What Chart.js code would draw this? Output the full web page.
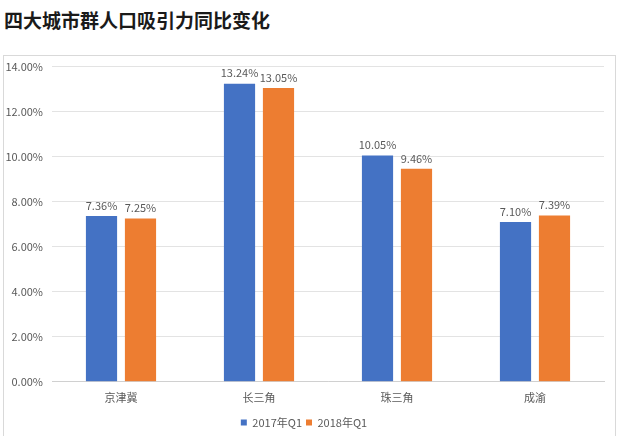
<!DOCTYPE html>
<html>
<head>
<meta charset="utf-8">
<script src="https://cdn.jsdelivr.net/npm/chart.js@4/dist/chart.umd.min.js"></script>
<style>
  html, body { margin: 0; padding: 0; background: #fff; width: 619px; height: 436px; overflow: hidden; }
  #title { position: absolute; left: 4px; top: 6px; font-family: 'Noto Sans CJK SC', sans-serif; font-weight: bold; font-size: 19px; color: #1a1a1a; letter-spacing: 0px; }
  #frame { position: absolute; left: 3px; top: 55px; width: 611px; height: 400px; border: 1px solid #d9d9d9; }
  #wrap { position: absolute; left: 4px; top: 51px; width: 611px; height: 393px; }
</style>
</head>
<body>
<div id="title">四大城市群人口吸引力同比变化</div>
<div id="frame"></div>
<div id="wrap"><canvas id="c" width="611" height="393"></canvas></div>
<script>
const categories = ['京津冀', '长三角', '珠三角', '成渝'];
const seriesNames = ['2017年Q1', '2018年Q1'];
const values2017 = [7.36, 13.24, 10.05, 7.10];
const values2018 = [7.25, 13.05, 9.46, 7.39];
const yTicks = [0, 2, 4, 6, 8, 10, 12, 14];

const FONT = "'Noto Sans CJK SC', 'Liberation Sans', sans-serif";

const valueLabels = {
  id: 'valueLabels',
  afterDatasetsDraw(chart) {
    const ctx = chart.ctx;
    ctx.save();
    ctx.font = '11px ' + FONT;
    ctx.fillStyle = '#595959';
    ctx.textAlign = 'center';
    ctx.textBaseline = 'bottom';
    chart.data.datasets.forEach((ds, i) => {
      const meta = chart.getDatasetMeta(i);
      meta.data.forEach((bar, j) => {
        ctx.fillText(ds.data[j].toFixed(2) + '%', bar.x, bar.y - 5);
      });
    });
    ctx.restore();
  }
};

new Chart(document.getElementById('c'), {
  type: 'bar',
  data: {
    labels: categories,
    datasets: [
      { label: seriesNames[0], data: values2017, backgroundColor: '#4472C4', categoryPercentage: 0.565, barPercentage: 0.8 },
      { label: seriesNames[1], data: values2018, backgroundColor: '#ED7D31', categoryPercentage: 0.565, barPercentage: 0.8 }
    ]
  },
  options: {
    responsive: false,
    animation: false,
    devicePixelRatio: 1,
    layout: { padding: { top: 5, right: 11, left: 0, bottom: 6 } },
    plugins: {
      title: { display: false },
      tooltip: { enabled: false },
      legend: {
        position: 'bottom',
        labels: {
          boxWidth: 6, boxHeight: 6, padding: 4,
          color: '#595959',
          font: { family: FONT, size: 11 }
        }
      }
    },
    scales: {
      x: {
        grid: { display: false, drawTicks: false },
        border: { display: true, color: '#d0d0d0' },
        ticks: { color: '#595959', font: { family: FONT, size: 11 }, padding: 9 }
      },
      y: {
        min: 0, max: 14,
        afterBuildTicks(scale) { scale.ticks = yTicks.map(v => ({ value: v })); },
        afterFit(scale) { scale.width = 48; },
        grid: { color: '#e3e3e3', drawTicks: false },
        border: { display: false },
        ticks: {
          color: '#595959', font: { family: FONT, size: 11 }, padding: 9,
          callback: v => v.toFixed(2) + '%'
        }
      }
    }
  },
  plugins: [valueLabels]
});
</script>
</body>
</html>
